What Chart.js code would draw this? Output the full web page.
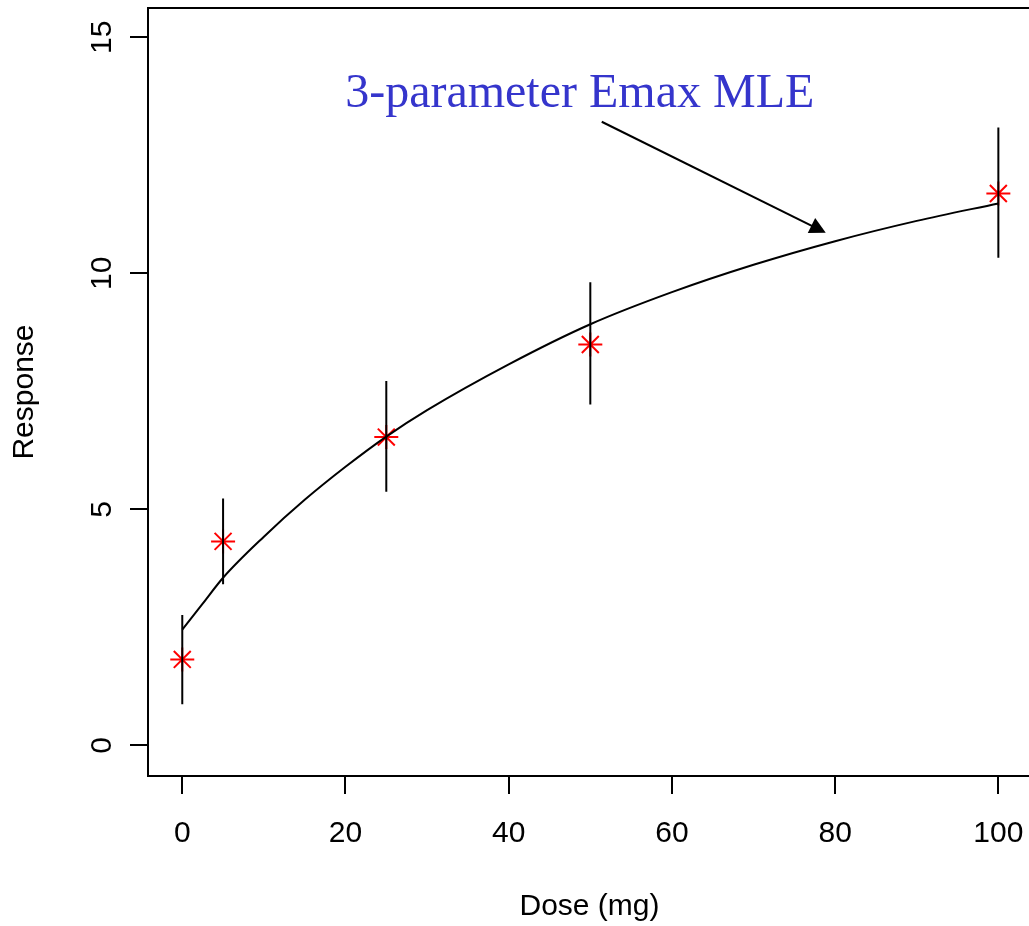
<!DOCTYPE html>
<html>
<head>
<meta charset="utf-8">
<script src="https://cdn.jsdelivr.net/npm/chart.js@4"></script>
<style>
  html, body { margin: 0; padding: 0; background: #fff; overflow: hidden; }
  #wrap { position: absolute; left: 0; top: 0; width: 1040px; height: 926px; }
</style>
</head>
<body>
<div id="wrap"><canvas id="emaxChart"></canvas></div>
<script>
// observed group means and interval limits per dose
const doses = [0, 5, 25, 50, 100];
const meanResp = [1.82, 4.32, 6.53, 8.49, 11.69];
const lowerCI = [0.87, 3.41, 5.37, 7.22, 10.33];
const upperCI = [2.76, 5.23, 7.72, 9.81, 13.09];

// fitted Emax curve, read at these doses
const fitDose = [0, 2.5, 5, 10, 15, 20, 25, 30, 40, 50, 60, 70, 80, 90, 100];
const fitResp = [2.45, 3.0, 3.55, 4.42, 5.2, 5.9, 6.54, 7.1, 8.07, 8.92, 9.6, 10.18, 10.68, 11.11, 11.48];

// axis ticks
const xTicks = [0, 20, 40, 60, 80, 100];
const yTicks = [0, 5, 10, 15];

// label + arrow (data coordinates)
const noteText = '3-parameter Emax MLE';
const notePos = [48.7, 13.52];
const arrowFrom = [51.4, 13.21];
const arrowTo = [78.85, 10.86];

const SANS = '"Liberation Sans", Arial, sans-serif';
const SERIF = '"Liberation Serif", "Times New Roman", serif';

const barData = [];
doses.forEach((d, i) => {
    barData.push({ x: d, y: lowerCI[i] }, { x: d, y: upperCI[i] }, { x: d, y: null });
});

function noPad(s) {
    s.paddingLeft = 0; s.paddingRight = 0; s.paddingTop = 0; s.paddingBottom = 0;
}

// box, rotated y labels, axis titles and the arrow note
const extras = {
    id: 'extras',
    afterDraw(chart) {
        const { ctx, chartArea: a, scales: { x, y } } = chart;
        ctx.save();
        ctx.strokeStyle = '#000';
        ctx.lineWidth = 2;
        ctx.strokeRect(a.left, a.top, a.right - a.left, a.bottom - a.top);

        ctx.fillStyle = '#000';
        ctx.font = '30px ' + SANS;
        ctx.textAlign = 'center';
        ctx.textBaseline = 'alphabetic';
        yTicks.forEach(v => {
            ctx.save();
            ctx.translate(111, y.getPixelForValue(v));
            ctx.rotate(-Math.PI / 2);
            ctx.fillText(String(v), 0, 0);
            ctx.restore();
        });

        ctx.save();
        ctx.translate(33, (a.top + a.bottom) / 2);
        ctx.rotate(-Math.PI / 2);
        ctx.fillText('Response', 0, 0);
        ctx.restore();

        ctx.fillText('Dose (mg)', (a.left + a.right) / 2, 915);

        ctx.fillStyle = '#3535cc';
        ctx.font = '48px ' + SERIF;
        ctx.fillText(noteText, x.getPixelForValue(notePos[0]), y.getPixelForValue(notePos[1]));

        const x0 = x.getPixelForValue(arrowFrom[0]), y0 = y.getPixelForValue(arrowFrom[1]);
        const x1 = x.getPixelForValue(arrowTo[0]), y1 = y.getPixelForValue(arrowTo[1]);
        const ang = Math.atan2(y1 - y0, x1 - x0);
        const len = 18, spread = Math.PI / 6.5;
        ctx.strokeStyle = '#000';
        ctx.lineWidth = 2;
        ctx.beginPath();
        ctx.moveTo(x0, y0);
        ctx.lineTo(x1 - Math.cos(ang) * len * 0.8, y1 - Math.sin(ang) * len * 0.8);
        ctx.stroke();
        ctx.fillStyle = '#000';
        ctx.beginPath();
        ctx.moveTo(x1, y1);
        ctx.lineTo(x1 - len * Math.cos(ang - spread), y1 - len * Math.sin(ang - spread));
        ctx.lineTo(x1 - len * Math.cos(ang + spread), y1 - len * Math.sin(ang + spread));
        ctx.closePath();
        ctx.fill();
        ctx.restore();
    }
};

new Chart(document.getElementById('emaxChart'), {
    type: 'line',
    data: {
        datasets: [
            {
                label: 'Emax fit',
                data: fitDose.map((d, i) => ({ x: d, y: fitResp[i] })),
                borderColor: '#000',
                borderWidth: 2,
                pointRadius: 0,
                cubicInterpolationMode: 'monotone',
                order: 0
            },
            {
                label: 'interval',
                data: barData,
                borderColor: '#000',
                borderWidth: 2,
                pointRadius: 0,
                spanGaps: false,
                order: 1
            },
            {
                label: 'observed',
                data: doses.map((d, i) => ({ x: d, y: meanResp[i] })),
                showLine: false,
                pointStyle: 'star',
                pointRadius: 12,
                pointBorderWidth: 2,
                borderColor: '#ff0000',
                backgroundColor: '#ff0000',
                order: 2
            }
        ]
    },
    options: {
        responsive: true,
        maintainAspectRatio: false,
        animation: false,
        layout: { autoPadding: false, padding: { top: 8, right: 9, left: 0, bottom: 0 } },
        plugins: { legend: { display: false }, tooltip: { enabled: false } },
        scales: {
            x: {
                type: 'linear',
                min: -4.2,
                max: 104,
                afterBuildTicks: s => { s.ticks = xTicks.map(v => ({ value: v })); },
                afterFit: s => { s.height = 150; noPad(s); },
                border: { display: false },
                grid: { drawOnChartArea: false, drawTicks: true, tickLength: 18, color: '#000', lineWidth: 2 },
                ticks: { color: '#000', padding: 22, maxRotation: 0, font: { family: SANS, size: 30 } }
            },
            y: {
                type: 'linear',
                min: -0.65,
                max: 15.62,
                afterBuildTicks: s => { s.ticks = yTicks.map(v => ({ value: v })); },
                afterFit: s => { s.width = 148; noPad(s); },
                border: { display: false },
                grid: { drawOnChartArea: false, drawTicks: true, tickLength: 18, color: '#000', lineWidth: 2 },
                ticks: { display: false }
            }
        }
    },
    plugins: [extras]
});
</script>
</body>
</html>
